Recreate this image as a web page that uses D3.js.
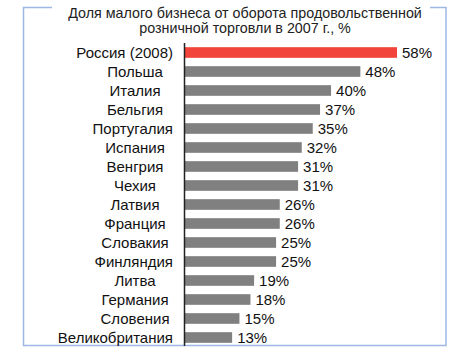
<!DOCTYPE html>
<html><head><meta charset="utf-8">
<script src="https://cdn.jsdelivr.net/npm/d3@7"></script>
<style>body{margin:0;background:#fff}svg{display:block}</style>
</head><body>
<script>
const titleLines = ["Доля малого бизнеса от оборота продовольственной", "розничной торговли в 2007 г., %"];
const categories = ["Россия (2008)","Польша","Италия","Бельгия","Португалия","Испания","Венгрия","Чехия","Латвия","Франция","Словакия","Финляндия","Литва","Германия","Словения","Великобритания"];
const values = [58,48,40,37,35,32,31,31,26,26,25,25,19,18,15,13];

const W = 449, H = 357;
const svg = d3.select("body").append("svg").attr("width", W).attr("height", H);

// frame
const fx0 = 23.5, fy0 = 7.5, fx1 = 446, fy1 = 345.5;
svg.append("path")
  .attr("d", `M52,${fy0} H${fx0} V${fy1} H${fx1} V${fy0} H430`)
  .attr("fill","none").attr("stroke","#9db9e3").attr("stroke-width",1.5);

svg.selectAll("text.title").data(titleLines).join("text")
  .attr("class","title")
  .attr("x", 245).attr("y", (d,i)=>18 + i*15)
  .attr("text-anchor","middle")
  .attr("font-family","Liberation Sans, Arial, sans-serif")
  .attr("font-size", 14.3).attr("fill","#222")
  .text(d=>d);

const x0 = 184.5;
const x = d3.scaleLinear().domain([0, 58]).range([x0, 397]);
const y = d3.scaleBand().domain(categories).range([43, 347]).paddingInner(0.44).paddingOuter(0.22);

svg.selectAll("rect.bar").data(categories).join("rect")
  .attr("x", x(0)).attr("y", d=>y(d))
  .attr("width", (d,i)=>x(values[i]) - x(0))
  .attr("height", y.bandwidth())
  .attr("fill", (d,i)=> i===0 ? "#f2443a" : "#808080");

svg.append("line").attr("x1", x0).attr("x2", x0).attr("y1", 43).attr("y2", 346)
  .attr("stroke","#222").attr("stroke-width",1.5);

// category labels
const labels = svg.selectAll("text.cat").data(categories).join("text")
  .attr("class","cat")
  .attr("y", d=>y(d)+y.bandwidth()/2)
  .attr("dy","0.36em")
  .attr("text-anchor","middle")
  .attr("font-family","Liberation Sans, Arial, sans-serif")
  .attr("font-size", 15).attr("fill","#111")
  .text(d=>d);
labels.each(function(){
  const w = this.getComputedTextLength();
  const cx = Math.min(135, 173 - w/2);
  d3.select(this).attr("x", cx);
});

svg.selectAll("text.val").data(categories).join("text")
  .attr("class","val")
  .attr("x", (d,i)=>x(values[i]) + 5)
  .attr("y", d=>y(d)+y.bandwidth()/2)
  .attr("dy","0.36em")
  .attr("font-family","Liberation Sans, Arial, sans-serif")
  .attr("font-size", 15).attr("fill","#111")
  .text((d,i)=>values[i] + "%");
</script>
</body></html>
